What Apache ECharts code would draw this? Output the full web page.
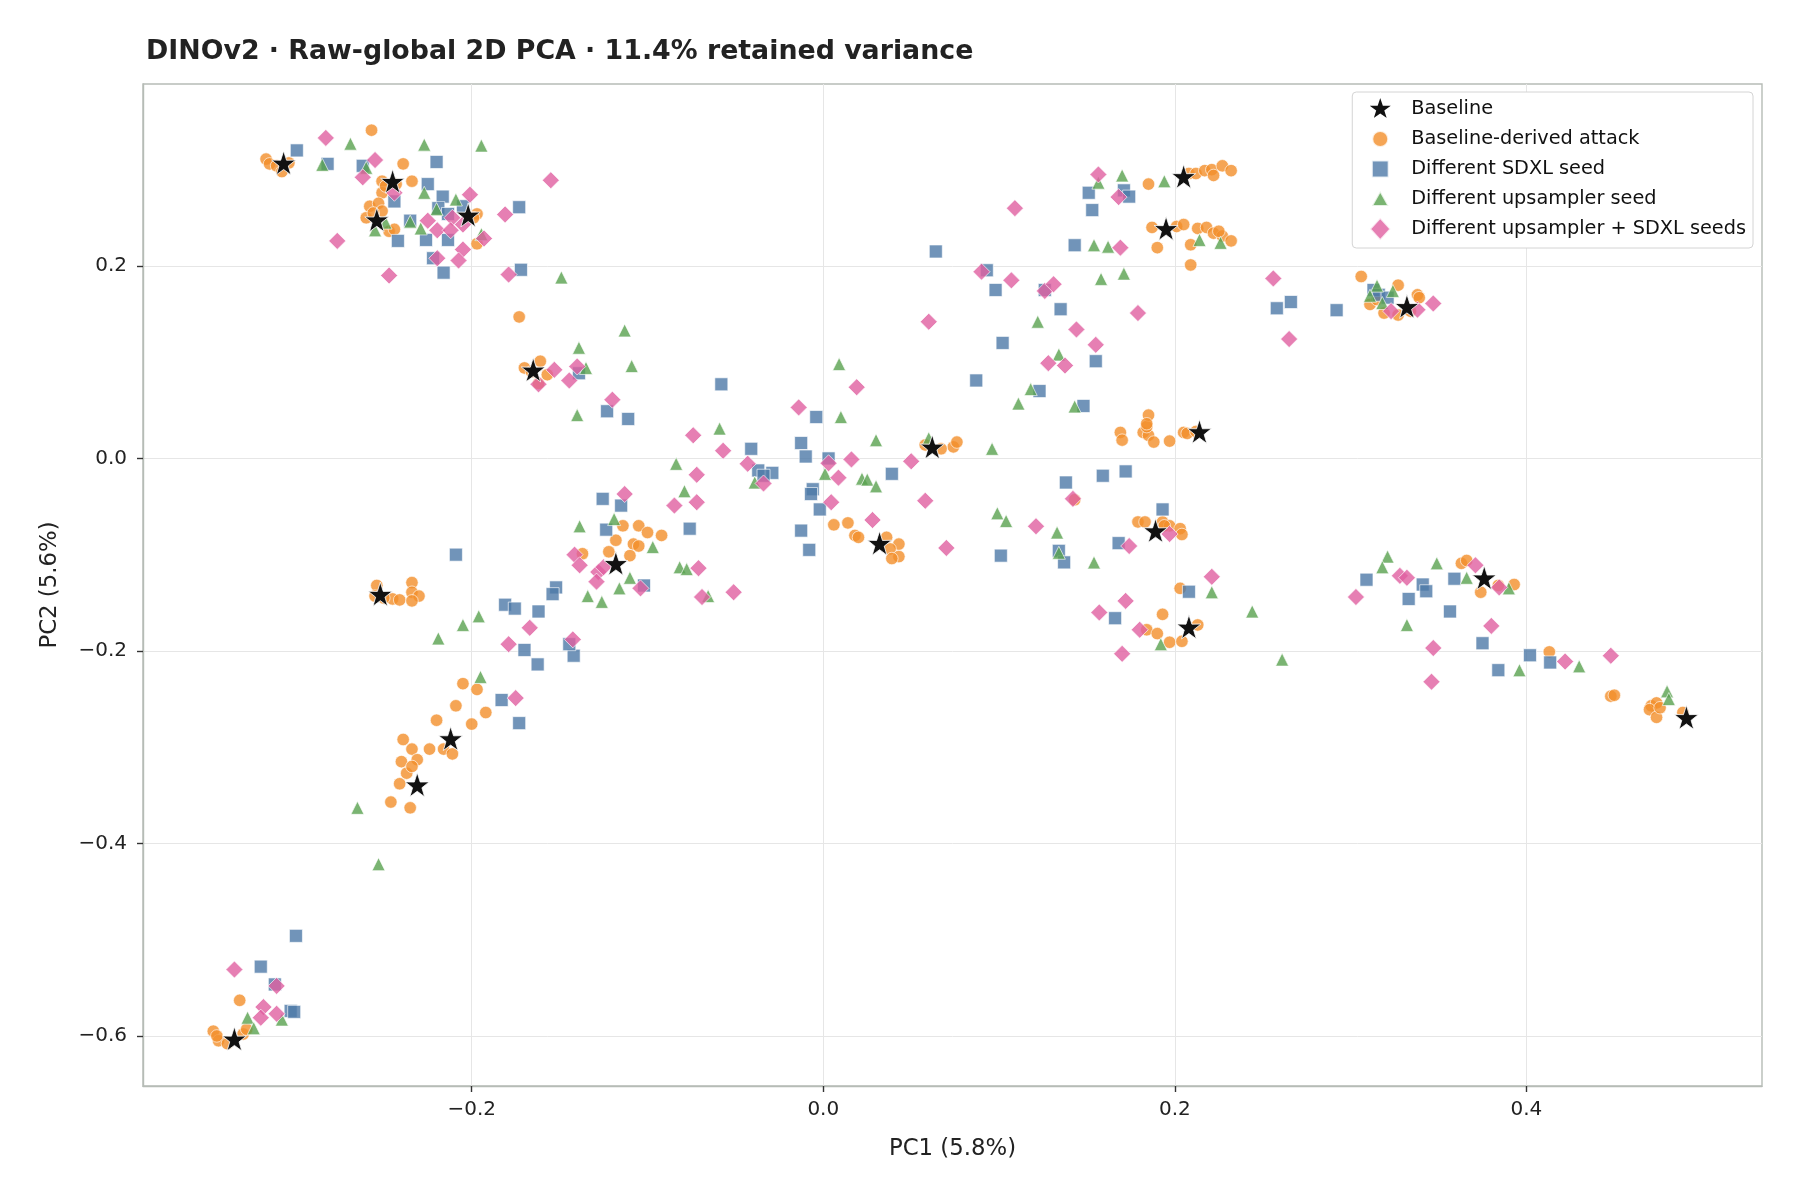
<!DOCTYPE html>
<html>
<head>
<meta charset="utf-8">
<script src="https://cdn.jsdelivr.net/npm/echarts@6/dist/echarts.min.js"></script>
<style>
  html, body { margin: 0; padding: 0; background: #fff; }
  #chart { width: 1800px; height: 1200px; }
</style>
</head>
<body>
<div id="chart"></div>
<script>
// PCA coordinates [PC1, PC2]
const baseline = [
  [-0.307, 0.307], [-0.245, 0.288], [-0.254, 0.248], [-0.202, 0.253], [-0.165, 0.092],
  [0.205, 0.293], [0.195, 0.239], [0.332, 0.158], [-0.252, -0.141], [-0.212, -0.291],
  [-0.118, -0.109], [-0.231, -0.339], [0.062, 0.012], [0.032, -0.088], [0.214, 0.028],
  [0.189, -0.075], [0.208, -0.175], [0.376, -0.124], [0.491, -0.269], [-0.335, -0.603]
];

const derivedAttack = [
  [-0.317, 0.311], [-0.315, 0.306], [-0.311, 0.304], [-0.308, 0.298], [-0.304, 0.307],
  [-0.257, 0.341],
  [-0.251, 0.288], [-0.251, 0.276], [-0.243, 0.285], [-0.249, 0.283], [-0.239, 0.306], [-0.234, 0.288],
  [-0.258, 0.262], [-0.253, 0.265], [-0.260, 0.250], [-0.251, 0.257], [-0.247, 0.236], [-0.244, 0.238], [-0.256, 0.255],
  [-0.197, 0.254], [-0.199, 0.250], [-0.197, 0.223],
  [-0.173, 0.147],
  [-0.170, 0.094], [-0.161, 0.101], [-0.157, 0.087], [-0.162, 0.078], [-0.166, 0.090],
  [0.185, 0.285], [0.208, 0.296], [0.212, 0.296], [0.217, 0.299], [0.221, 0.300], [0.227, 0.304], [0.232, 0.299], [0.222, 0.294],
  [0.187, 0.240], [0.201, 0.241], [0.205, 0.243], [0.213, 0.239], [0.218, 0.240], [0.222, 0.234], [0.227, 0.231],
  [0.232, 0.226], [0.190, 0.219], [0.209, 0.222], [0.209, 0.201], [0.225, 0.236],
  [0.306, 0.189], [0.327, 0.180], [0.338, 0.170], [0.339, 0.167], [0.311, 0.160], [0.319, 0.151], [0.327, 0.149], [0.334, 0.153], [0.315, 0.165],
  [-0.254, -0.132], [-0.255, -0.143], [-0.245, -0.146], [-0.241, -0.147], [-0.234, -0.129], [-0.234, -0.139], [-0.230, -0.143], [-0.234, -0.148], [-0.250, -0.145],
  [-0.205, -0.234], [-0.197, -0.240], [-0.209, -0.257], [-0.192, -0.264], [-0.220, -0.272], [-0.200, -0.276],
  [-0.239, -0.292], [-0.234, -0.302], [-0.224, -0.302], [-0.216, -0.302], [-0.211, -0.307], [-0.240, -0.315], [-0.231, -0.313],
  [-0.241, -0.338], [-0.246, -0.357], [-0.235, -0.363], [-0.237, -0.327], [-0.234, -0.320],
  [-0.137, -0.099], [-0.114, -0.070], [-0.105, -0.070], [-0.100, -0.077], [-0.118, -0.085], [-0.122, -0.097], [-0.108, -0.089], [-0.105, -0.091], [-0.092, -0.080], [-0.110, -0.101],
  [0.074, 0.012], [0.076, 0.017], [0.067, 0.010], [0.058, 0.014],
  [0.006, -0.069], [0.014, -0.067], [0.018, -0.080], [0.020, -0.082], [0.036, -0.082], [0.043, -0.089], [0.038, -0.094], [0.043, -0.102], [0.039, -0.104],
  [0.169, 0.027], [0.170, 0.019], [0.182, 0.027], [0.185, 0.024], [0.188, 0.017], [0.197, 0.018], [0.205, 0.027], [0.207, 0.026], [0.184, 0.033], [0.185, 0.045], [0.184, 0.036], [0.212, 0.028],
  [0.179, -0.066], [0.183, -0.066], [0.193, -0.066], [0.197, -0.070], [0.203, -0.073], [0.204, -0.079], [0.194, -0.070],
  [0.143, -0.043],
  [0.193, -0.162], [0.184, -0.178], [0.190, -0.182], [0.197, -0.191], [0.204, -0.190], [0.213, -0.173], [0.203, -0.135],
  [0.363, -0.109], [0.366, -0.106], [0.374, -0.139], [0.393, -0.131], [0.384, -0.132],
  [0.413, -0.201], [0.448, -0.247], [0.450, -0.246], [0.471, -0.257], [0.474, -0.254], [0.470, -0.261], [0.474, -0.269], [0.476, -0.259], [0.489, -0.264],
  [-0.347, -0.595], [-0.344, -0.605], [-0.345, -0.600], [-0.332, -0.563], [-0.330, -0.598], [-0.328, -0.593], [-0.339, -0.608]
];

const sdxlSeed = [
  [-0.2995, 0.320], [-0.282, 0.306], [-0.262, 0.304], [-0.220, 0.308], [-0.225, 0.285], [-0.2165, 0.272], [-0.244, 0.267],
  [-0.219, 0.260], [-0.2135, 0.254], [-0.235, 0.247], [-0.242, 0.226], [-0.226, 0.227], [-0.2135, 0.227], [-0.222, 0.208],
  [-0.216, 0.193], [-0.205, 0.262], [-0.173, 0.261], [-0.172, 0.196], [-0.139, 0.0885], [-0.123, 0.049], [-0.111, 0.041],
  [0.151, 0.276], [0.171, 0.2785], [0.174, 0.272], [0.153, 0.258], [0.143, 0.2215], [0.064, 0.215], [0.093, 0.1955],
  [0.098, 0.175], [0.126, 0.175], [0.135, 0.155], [-0.058, 0.077], [0.102, 0.120], [0.155, 0.101], [0.087, 0.081],
  [0.123, 0.070], [0.148, 0.0545], [-0.004, 0.043],
  [0.266, 0.1625], [0.258, 0.156], [0.292, 0.154], [0.313, 0.175], [0.316, 0.170], [0.321, 0.167],
  [-0.209, -0.100], [-0.1255, -0.042], [-0.115, -0.049], [-0.1235, -0.074], [-0.152, -0.134], [-0.154, -0.141],
  [-0.181, -0.152], [-0.1755, -0.156], [-0.162, -0.159], [-0.170, -0.199], [-0.1625, -0.214], [-0.142, -0.205],
  [-0.1445, -0.193], [-0.102, -0.132], [-0.183, -0.251], [-0.173, -0.275],
  [-0.041, 0.010], [-0.0126, 0.016], [-0.010, 0.002], [0.003, 0.000], [-0.037, -0.0125], [-0.029, -0.015], [-0.034, -0.018],
  [-0.006, -0.032], [-0.007, -0.037], [-0.002, -0.053], [-0.076, -0.073], [-0.0126, -0.075], [-0.008, -0.095], [0.039, -0.016],
  [0.138, -0.025], [0.159, -0.018], [0.172, -0.0135], [0.193, -0.053], [0.168, -0.088], [0.134, -0.096], [0.137, -0.108],
  [0.101, -0.101], [0.166, -0.166], [0.208, -0.1385],
  [0.309, -0.126], [0.341, -0.131], [0.343, -0.138], [0.333, -0.146], [0.359, -0.125], [0.3565, -0.159], [0.375, -0.192],
  [0.384, -0.220], [0.402, -0.2045], [0.4135, -0.212],
  [-0.300, -0.496], [-0.320, -0.528], [-0.312, -0.5465], [-0.303, -0.574], [-0.301, -0.575]
];

const upsamplerSeed = [
  [-0.269, 0.327], [-0.227, 0.326], [-0.1945, 0.325], [-0.285, 0.305], [-0.260, 0.302], [-0.227, 0.276], [-0.209, 0.269],
  [-0.220, 0.259], [-0.235, 0.246], [-0.229, 0.239], [-0.255, 0.237], [-0.249, 0.245], [-0.1945, 0.233], [-0.149, 0.188],
  [-0.113, 0.133], [-0.139, 0.115], [-0.109, 0.096], [-0.135, 0.094], [-0.140, 0.045],
  [0.1565, 0.2865], [0.170, 0.294], [0.194, 0.288], [0.154, 0.2215], [0.162, 0.220], [0.214, 0.227], [0.226, 0.224],
  [0.158, 0.1865], [0.171, 0.192], [0.122, 0.142], [0.009, 0.098], [0.134, 0.108], [0.118, 0.072], [0.111, 0.057],
  [0.143, 0.054], [0.010, 0.043], [-0.059, 0.031],
  [0.315, 0.1795], [0.311, 0.169], [0.318, 0.1615], [0.324, 0.174],
  [-0.0837, -0.0056], [-0.1386, -0.0705], [-0.119, -0.063], [-0.097, -0.092], [-0.110, -0.124], [-0.116, -0.135],
  [-0.134, -0.143], [-0.126, -0.149], [-0.0817, -0.113], [-0.196, -0.164], [-0.205, -0.173], [-0.219, -0.187], [-0.195, -0.227],
  [-0.079, -0.034], [-0.0777, -0.115], [-0.0655, -0.143], [-0.039, -0.025], [0.001, -0.016], [0.030, 0.019], [0.022, -0.021],
  [0.025, -0.022], [0.030, -0.029], [0.096, 0.010], [0.099, -0.057], [0.104, -0.065], [0.133, -0.077], [0.134, -0.098],
  [0.154, -0.108], [0.221, -0.139], [0.192, -0.193], [0.060, 0.021],
  [0.321, -0.102], [0.318, -0.113], [0.349, -0.109], [0.366, -0.124], [0.390, -0.135], [0.244, -0.159], [0.332, -0.173],
  [0.261, -0.209], [0.396, -0.220], [0.430, -0.216], [0.480, -0.242], [0.481, -0.250],
  [-0.265, -0.363], [-0.253, -0.4215], [-0.3275, -0.581], [-0.324, -0.592], [-0.308, -0.583]
];

const bothSeeds = [
  [-0.283, 0.333], [-0.255, 0.310], [-0.262, 0.292], [-0.244, 0.276], [-0.201, 0.274], [-0.155, 0.289], [-0.181, 0.2535],
  [-0.2765, 0.226], [-0.225, 0.247], [-0.2196, 0.237], [-0.211, 0.250], [-0.212, 0.237], [-0.205, 0.243], [-0.193, 0.2285],
  [-0.205, 0.217], [-0.2196, 0.208], [-0.2075, 0.2056], [-0.247, 0.190], [-0.179, 0.191], [-0.153, 0.092], [-0.140, 0.0955],
  [-0.1445, 0.081], [-0.162, 0.077], [-0.120, 0.061],
  [0.1565, 0.295], [0.168, 0.2715], [0.109, 0.260], [0.169, 0.219], [0.090, 0.194], [0.107, 0.185], [0.126, 0.174],
  [0.131, 0.181], [0.179, 0.151], [0.060, 0.142], [0.144, 0.134], [0.155, 0.118], [0.128, 0.099], [0.1375, 0.0965],
  [0.019, 0.074], [-0.014, 0.053],
  [0.256, 0.187], [0.265, 0.124], [0.323, 0.153], [0.338, 0.1545], [0.347, 0.161],
  [-0.113, -0.037], [-0.0847, -0.049], [-0.1415, -0.100], [-0.1386, -0.111], [-0.128, -0.118], [-0.125, -0.113],
  [-0.129, -0.128], [-0.104, -0.135], [-0.167, -0.176], [-0.179, -0.193], [-0.1425, -0.188], [-0.175, -0.249],
  [-0.074, 0.024], [-0.057, 0.008], [-0.043, -0.0056], [-0.072, -0.017], [-0.034, -0.026], [-0.072, -0.0455],
  [-0.071, -0.114], [-0.069, -0.144], [-0.051, -0.139], [0.003, -0.005], [0.016, -0.001], [0.0086, -0.020],
  [0.0045, -0.0455], [0.028, -0.064], [0.050, -0.003], [0.058, -0.044], [0.070, -0.093], [0.121, -0.0705],
  [0.142, -0.042], [0.174, -0.091], [0.197, -0.0785], [0.221, -0.123], [0.172, -0.148], [0.157, -0.160],
  [0.180, -0.178], [0.170, -0.203],
  [0.328, -0.122], [0.332, -0.124], [0.303, -0.144], [0.371, -0.111], [0.3845, -0.134], [0.380, -0.174],
  [0.347, -0.197], [0.346, -0.232], [0.422, -0.211], [0.448, -0.205],
  [-0.335, -0.531], [-0.311, -0.548], [-0.3185, -0.570], [-0.311, -0.577], [-0.320, -0.581]
];

const xTicks = [-0.2, 0.0, 0.2, 0.4];
const yTicks = [-0.6, -0.4, -0.2, 0.0, 0.2];

const seriesNames = [
  "Baseline",
  "Baseline-derived attack",
  "Different SDXL seed",
  "Different upsampler seed",
  "Different upsampler + SDXL seeds",
];

const FONT = "DejaVu Sans";
const STAR = "path://M50,0 L61.8,35.1 L98.1,34.5 L68.7,56.7 L79.4,90.5 L50,70 L20.6,90.5 L31.3,56.7 L1.9,34.5 L38.2,35.1 Z";
// legend icons padded into a fixed 28x28 box so they keep marker-like sizes
const legendIcons = [
  "path://M0,0M28,28M14,0L17.3,9.8L27.5,9.7L19.2,15.9L22.2,25.3L14,19.6L5.8,25.3L8.8,15.9L0.5,9.7L10.7,9.8Z",
  "path://M0,0M28,28M22,14A8,8,0,1,1,6,14A8,8,0,1,1,22,14Z",
  "path://M0,0M28,28M5.6,5.6L22.4,5.6L22.4,22.4L5.6,22.4Z",
  "path://M0,0M28,28M14,6L22.4,21L5.6,21Z",
  "path://M0,0M28,28M14,2.8L24.3,14L14,25.2L3.7,14Z",
];

const fmt = (v) => (v < 0 ? "\u2212" : "") + Math.abs(v).toFixed(1);

const chart = echarts.init(document.getElementById("chart"), null, { renderer: "canvas" });

function scatter(name, data, symbol, size, color, z) {
  return {
    name,
    type: "scatter",
    data,
    symbol,
    symbolSize: size,
    z,
    itemStyle: {
      color,
      opacity: name === "Baseline" ? 1 : 0.8,
      borderColor: "#ffffff",
      borderWidth: 0.8,
    },
    emphasis: { disabled: true },
  };
}

chart.setOption({
  animation: false,
  backgroundColor: "#ffffff",
  textStyle: { fontFamily: FONT },
  title: {
    text: "DINOv2 \u00b7 Raw-global 2D PCA \u00b7 11.4% retained variance",
    left: 141,
    top: 34,
    textStyle: { fontFamily: FONT, fontSize: 26.8, fontWeight: "bold", color: "#222222" },
  },
  legend: {
    orient: "vertical",
    right: 47,
    top: 92,
    padding: [2, 7, 4, 13],
    itemGap: 0,
    itemWidth: 28,
    itemHeight: 28,
    backgroundColor: "#ffffff",
    borderColor: "#d4d4d4",
    borderWidth: 1,
    borderRadius: 4,
    textStyle: { fontFamily: FONT, fontSize: 19.3, color: "#111111", lineHeight: 20, padding: [0, 0, 0, 12] },
    data: seriesNames.map((n, i) => ({ name: n, icon: legendIcons[i] })),
  },
  grid: { left: 143, right: 38, top: 84, bottom: 114, show: true, borderColor: "#b6bcb6", borderWidth: 1.4 },
  xAxis: {
    type: "value",
    min: -0.387,
    max: 0.534,
    name: "PC1 (5.8%)",
    nameLocation: "middle",
    nameGap: 52,
    nameTextStyle: { fontFamily: FONT, fontSize: 22.8, color: "#222222" },
    axisLine: { show: true, onZero: false, lineStyle: { color: "#b6bcb6", width: 1.4 } },
    axisTick: { show: true, length: 6, customValues: xTicks, lineStyle: { color: "#333333", width: 1.4 } },
    axisLabel: { customValues: xTicks, formatter: fmt, fontFamily: FONT, fontSize: 20, color: "#222222", margin: 14 },
    splitLine: { show: true, lineStyle: { color: "#e6e6e6", width: 1 } },
  },
  yAxis: {
    type: "value",
    min: -0.652,
    max: 0.389,
    name: "PC2 (5.6%)",
    nameLocation: "middle",
    nameGap: 81,
    nameRotate: 90,
    nameTextStyle: { fontFamily: FONT, fontSize: 22.8, color: "#222222" },
    axisLine: { show: true, onZero: false, lineStyle: { color: "#b6bcb6", width: 1.4 } },
    axisTick: { show: true, length: 6, customValues: yTicks, lineStyle: { color: "#333333", width: 1.4 } },
    axisLabel: { customValues: yTicks, formatter: fmt, fontFamily: FONT, fontSize: 20, color: "#222222", margin: 16 },
    splitLine: { show: true, lineStyle: { color: "#e6e6e6", width: 1 } },
  },
  series: [
    scatter(seriesNames[1], derivedAttack, "circle", 12.5, "#F28E2B", 2),
    scatter(seriesNames[2], sdxlSeed, "rect", 13, "#4E79A7", 3),
    scatter(seriesNames[3], upsamplerSeed, "triangle", 13, "#59A14F", 4),
    scatter(seriesNames[4], bothSeeds, "diamond", 17, "#E05FA0", 5),
    scatter(seriesNames[0], baseline, STAR, 24, "#111111", 6),
  ],
});

window.addEventListener("resize", () => chart.resize());
</script>
</body>
</html>
